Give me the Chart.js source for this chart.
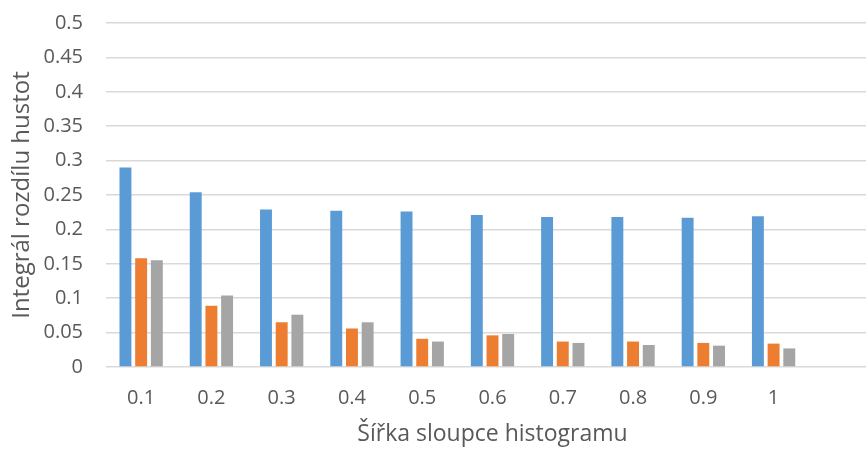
<!DOCTYPE html>
<html>
<head>
<meta charset="utf-8">
<script src="https://cdn.jsdelivr.net/npm/chart.js@4"></script>
<style>
  html, body { margin: 0; padding: 0; background: #ffffff; overflow: hidden; }
  #wrap { width: 890px; height: 450px; position: relative; }
</style>
</head>
<body>
<div id="wrap"><canvas id="chart"></canvas></div>
<script>
// Histogram bin width (last slot left empty)
const categories = ['0.1', '0.2', '0.3', '0.4', '0.5', '0.6', '0.7', '0.8', '0.9', '1', ''];
// Integral of density difference, three methods
const seriesBlue   = [0.290, 0.254, 0.229, 0.227, 0.226, 0.221, 0.218, 0.218, 0.217, 0.219];
const seriesOrange = [0.158, 0.089, 0.065, 0.056, 0.041, 0.046, 0.037, 0.037, 0.035, 0.034];
const seriesGray   = [0.155, 0.104, 0.076, 0.065, 0.037, 0.048, 0.035, 0.032, 0.031, 0.027];

const xTitle = 'Šířka sloupce histogramu';
const yTitle = 'Integrál rozdílu hustot';

const textColor = '#595959';
const gridColor = '#d9d9d9';
const fontFamily = '"Open Sans", "DejaVu Sans", sans-serif';

// Fixed axis box sizes so the plot area sits where intended
const Y_AXIS_WIDTH = 106;
const X_AXIS_HEIGHT = 83;

function barSet(values, color) {
  return {
    data: values,
    backgroundColor: color,
    borderWidth: 0,
    categoryPercentage: 0.67,
    barPercentage: 0.76
  };
}

new Chart(document.getElementById('chart'), {
  type: 'bar',
  data: {
    labels: categories,
    datasets: [
      barSet(seriesBlue, '#5b9bd5'),
      barSet(seriesOrange, '#ed7d31'),
      barSet(seriesGray, '#a5a5a5')
    ]
  },
  options: {
    responsive: true,
    maintainAspectRatio: false,
    animation: false,
    layout: { padding: { top: 23, right: 11, bottom: 0, left: 0 } },
    plugins: {
      legend: { display: false },
      tooltip: { enabled: false }
    },
    scales: {
      x: {
        grid: { display: false, drawTicks: false },
        border: { display: false },
        afterFit: (scale) => { scale.height = X_AXIS_HEIGHT; },
        ticks: {
          color: textColor,
          font: { family: fontFamily, size: 20 },
          padding: 19,
          maxRotation: 0,
          autoSkip: false
        },
        title: {
          display: true,
          text: xTitle,
          color: textColor,
          font: { family: fontFamily, size: 23 },
          padding: { top: 0, bottom: 2 }
        }
      },
      y: {
        min: 0,
        max: 0.5,
        grid: { color: gridColor, lineWidth: 1.5, drawTicks: false },
        border: { display: false },
        afterFit: (scale) => {
          scale.width = Y_AXIS_WIDTH;
          scale.paddingTop = 0;
          scale.paddingBottom = 0;
        },
        ticks: {
          stepSize: 0.05,
          color: textColor,
          font: { family: fontFamily, size: 20 },
          padding: 23,
          callback: (v) => String(Number(v.toFixed(2)))
        },
        title: {
          display: true,
          text: yTitle,
          color: textColor,
          font: { family: fontFamily, size: 24 },
          padding: { top: 8, bottom: 0 }
        }
      }
    }
  }
});
</script>
</body>
</html>
